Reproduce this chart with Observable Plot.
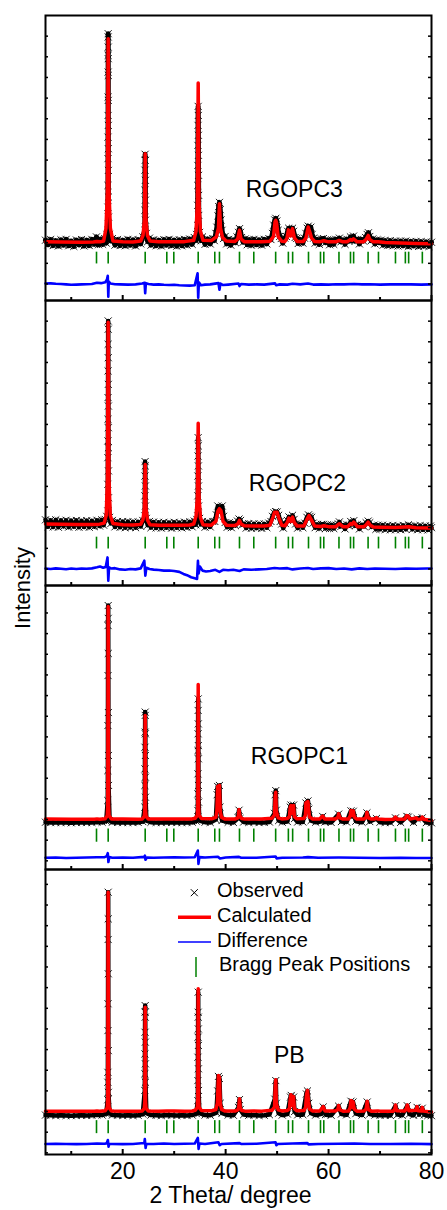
<!DOCTYPE html>
<html><head><meta charset="utf-8">
<script src="https://cdn.jsdelivr.net/npm/d3@7"></script>
<script src="https://cdn.jsdelivr.net/npm/@observablehq/plot@0.6"></script>
<style>
body{margin:0;background:#fff;}
#chart{position:relative;width:447px;height:1210px;overflow:hidden;}
#chart > svg{position:absolute;left:0;}
</style></head><body><div id="chart"></div>
<script>
// ---------------- DATA (2θ in degrees, intensity in a.u.) ----------------
const panelNames = ["RGOPC3", "RGOPC2", "RGOPC1", "PB"];
const xMajor = [20, 40, 60, 80];
const xMinor = [10, 30, 50, 70];
const legendLabels = ["Observed", "Calculated", "Difference", "Bragg Peak Positions"];
const bragg = [14.91, 17.18, 24.37, 28.57, 29.93, 34.67, 37.89, 38.8, 42.69, 45.47, 49.72, 52.19, 53.02, 56.1, 58.43, 59.07, 62.02, 64.26, 64.87, 67.68, 69.7, 73.0, 74.92, 75.56, 78.22];

const calcRGOPC3 = [[5,4],[8,3],[12,2],[14.3,3],[15.0,6],[15.6,4],
[16.3,8],[16.75,70],[17.03,250],[17.18,988],[17.33,250],[17.6,70],[18.1,8],
[20,4],[22,3],
[23.5,8],[23.95,35],[24.22,110],[24.37,431],[24.52,110],[24.8,35],[25.3,8],
[27,4],[28.6,5],[30,5],[32,5],
[33.8,12],[34.25,55],[34.52,195],[34.67,773],[34.82,195],[35.1,55],[35.6,12],
[37.2,10],[38.2,28],[38.6,70],[38.8,189],[39.0,70],[39.4,25],[40.1,8],
[41.8,6],[42.35,18],[42.69,60],[43.0,18],[43.6,5],
[45.5,4],[47,4],
[48.6,7],[49.3,30],[49.6,102],[49.74,108],[49.9,96],[50.2,30],[50.9,7],
[51.5,6],[51.9,20],[52.21,62],[52.6,32],[52.99,68],[53.35,24],[53.9,6],
[55.1,6],[55.6,22],[56.04,76],[56.4,48],[56.7,22],[57.3,6],
[58.4,5],[59.07,9],[60,4],
[61.4,4],[62.06,11],[62.8,4],
[63.6,5],[64.26,15],[64.55,12],[64.84,19],[65.5,5],
[66.8,5],[67.3,16],[67.7,35],[68.0,16],[68.6,5],
[69.64,4],[71,1],[74,-2],[77,-4],[80,-5]];

const obsRGOPC3 = [[5,12],[5.5,-10],[6,15],[6.5,-14],[7,10],[7.5,-16],[8,14],[8.5,-12],[9,16],[9.5,-15],[10,8],[10.5,-18],[11,13],[11.5,-11],[12,15],[12.5,-16],[13,12],[13.5,-14],[14,16],[14.5,-8],[14.9,28],[15.3,-10],[15.7,18],[16.1,-8],[16.5,20],[16.8,-2],[16.95,40],
[17.12,60],[17.13,172],[17.14,277],[17.15,407],[17.15,511],[17.16,616],[17.16,705],[17.17,826],[17.17,907],[17.18,996],[17.18,1012],[17.19,947],[17.19,891],[17.2,810],[17.2,689],[17.21,568],[17.21,455],[17.22,350],[17.23,221],[17.24,124],
[17.45,40],[17.7,8],[18.0,20],[18.5,-12],[19,15],[19.5,-14],[20,12],[20.5,-15],[21,16],[21.5,-12],[22,14],[22.5,-16],[23,15],[23.5,-6],[23.9,28],
[24.3,60],[24.31,157],[24.32,254],[24.33,351],[24.36,428],[24.39,399],[24.41,302],[24.42,206],[24.43,109],
[24.6,45],[24.85,5],[25.2,22],[25.5,-12],[26,14],[26.5,-15],[27,12],[27.5,-16],[28,15],[28.5,-12],[29,16],[29.5,-14],[30,13],[30.5,-17],[31,14],[31.5,-15],[32,16],[32.5,-12],[33,18],[33.5,-8],[33.9,25],[34.2,10],[34.35,40],
[34.55,84],[34.57,181],[34.59,277],[34.61,374],[34.62,471],[34.64,568],[34.66,660],[34.69,616],[34.71,520],[34.72,423],[34.74,326],[34.76,229],[34.78,132],
[34.95,50],[35.2,10],[35.5,28],[36,-8],[36.5,18],[37,-6],[37.5,20],[37.8,10],[38.1,45],[38.3,75],[38.5,130],[38.65,175],[38.8,195],[38.95,160],[39.1,110],[39.3,60],[39.6,20],[39.9,30],[40.2,-6],[40.6,16],[41,-12],[41.5,14],[41.9,0],[42.2,28],[42.5,50],[42.7,68],[42.9,50],[43.1,25],[43.4,2],[43.8,18],[44.2,-10],[44.6,15],[45,-12],[45.5,16],[46,-10],[46.5,14],[47,-12],[47.5,16],[48,-6],[48.4,20],[48.8,15],[49.1,45],[49.35,85],[49.55,110],[49.75,118],[49.95,105],[50.2,60],[50.5,30],[50.8,20],[51.1,-2],[51.5,22],[51.8,30],[52.05,55],[52.25,70],[52.5,45],[52.75,50],[53.0,70],[53.2,55],[53.5,25],[53.8,20],[54.1,-4],[54.5,16],[55,-2],[55.3,22],[55.6,45],[55.85,70],[56.05,80],[56.3,65],[56.55,75],[56.8,40],[57.1,22],[57.4,-2],[57.8,16],[58.2,-8],[58.6,18],[59.0,20],[59.4,0],[59.8,14],[60.2,-10],[60.6,14],[61,-8],[61.4,16],[61.8,10],[62.1,22],[62.4,4],[62.8,14],[63.2,-8],[63.6,16],[63.9,8],[64.25,28],[64.55,10],[64.85,32],[65.2,8],[65.6,16],[66,-6],[66.4,16],[66.8,8],[67.2,25],[67.5,40],[67.75,48],[68.0,30],[68.3,10],[68.6,18],[69,-6],[69.4,14],[69.8,0],[70.2,12],[70.6,-12],[71,10],[71.5,-14],[72,10],[72.5,-15],[73,8],[73.5,-16],[74,8],[74.5,-15],[75,8],[75.5,-18],[76,6],[76.5,-16],[77,6],[77.5,-18],[78,5],[78.5,-17],[79,4],[79.5,-18],[80,2]];

const diffRGOPC3 = [[5,2],[6,3],[7,1],[8,0],[9,-2],[10,-4],[11,-3],[12,-2],[13,-1],[14,0],[15,6],[15.8,4],[16.6,8],[16.95,22],[17.1,40],[17.2,-62],[17.3,12],[17.6,2],[18.5,-1],[19.5,-2],[21,-3],[22.5,-2],[23.8,2],[24.25,6],[24.37,-45],[24.5,4],[25,0],[26,-3],[27,-2],[28,-4],[29,-5],[30,-4],[31,-6],[32,-7],[33,-8],[34,-6],[34.55,52],[34.67,-67],[34.8,8],[35.2,-6],[36,-3],[37,-2],[38.6,4],[38.8,-28],[39.0,2],[39.5,-5],[40.5,-3],[42.5,2],[42.7,-10],[43,0],[44.5,-3],[46,-2],[47.5,-3],[49.6,3],[49.8,-6],[50.5,-2],[52,-3],[53,1],[54.5,-2],[56,2],[57,-3],[58.5,-2],[60,-3],[61.5,-1],[63,-2],[65,0],[66.5,-2],[68,-1],[70,-3],[72,-2],[74,-1],[76,-2],[78,-3],[80,-2]];

const calcRGOPC2 = [[5,18],[8,16],[11,15],[14,15],[15.5,17],
[16.4,22],[16.8,60],[17.04,240],[17.18,995],[17.32,240],[17.58,60],[18.1,20],
[20,14],[22,13],
[23.5,16],[23.95,40],[24.22,95],[24.37,306],[24.52,95],[24.8,38],[25.3,14],
[27,12],[29,12],[31,12],[33,13],
[33.8,18],[34.25,55],[34.52,150],[34.67,506],[34.82,150],[35.1,50],[35.6,14],
[37.2,12],[38.1,30],[38.5,80],[38.8,92],[39.1,82],[39.5,30],[40.2,12],
[41.8,10],[42.35,18],[42.69,35],[43.0,18],[43.6,9],
[45.5,8],[47.5,8],
[48.6,12],[49.2,50],[49.5,75],[50.0,75],[50.3,50],[50.9,12],
[51.5,9],[51.9,22],[52.3,46],[52.65,30],[53.0,51],[53.35,24],[53.9,8],
[55.2,8],[55.8,40],[56.2,59],[56.6,40],[57.3,8],
[58.5,6],[59.1,9],[60,5],
[61.4,5],[62.06,19],[62.8,5],
[63.7,5],[64.3,20],[64.6,16],[64.9,27],[65.6,5],
[66.8,4],[67.3,14],[67.7,27],[68.1,12],[68.7,3],
[70,2],[73,1],[75.6,4],[77,0],[80,-2]];

const obsRGOPC2 = [[5,38],[5.5,5],[6,36],[6.5,4],[7,38],[7.5,2],[8,35],[8.5,6],[9,36],[9.5,3],[10,34],[10.5,5],[11,35],[11.5,2],[12,33],[12.5,4],[13,34],[13.5,2],[14,33],[14.5,5],[15,36],[15.5,8],[15.9,38],[16.3,12],[16.6,40],[16.9,55],
[17.1,81],[17.11,210],[17.12,339],[17.13,420],[17.14,525],[17.15,630],[17.16,759],[17.17,888],[17.18,1001],[17.19,961],[17.2,823],[17.21,694],[17.22,589],[17.22,484],[17.23,387],[17.24,275],[17.25,145],
[17.45,50],[17.7,20],[18.0,35],[18.5,4],[19,30],[19.5,2],[20,30],[20.5,0],[21,29],[21.5,1],[22,28],[22.5,0],[23,28],[23.5,6],[23.9,35],
[24.29,57],[24.31,154],[24.33,250],[24.35,320],[24.39,299],[24.41,202],[24.43,105],
[24.6,45],[24.85,12],[25.2,30],[25.5,0],[26,27],[26.5,-1],[27,26],[27.5,-2],[28,26],[28.5,0],[29,25],[29.5,-2],[30,26],[30.5,0],[31,25],[31.5,-1],[32,27],[32.5,1],[33,28],[33.5,4],[33.9,32],[34.2,14],[34.4,40],
[34.58,57],[34.6,154],[34.62,250],[34.64,347],[34.66,436],[34.69,396],[34.71,299],[34.73,202],[34.75,105],
[34.95,45],[35.2,15],[35.5,30],[36,2],[36.5,28],[37,4],[37.5,30],[37.9,30],[38.2,62],[38.48,105],[38.7,80],[38.9,78],[39.1,85],[39.33,105],[39.6,55],[39.9,25],[40.3,2],[40.7,24],[41.1,0],[41.5,22],[41.9,10],[42.3,32],[42.6,42],[42.9,35],[43.2,15],[43.6,18],[44,-2],[44.5,20],[45,-3],[45.5,19],[46,-2],[46.5,18],[47,-3],[47.5,18],[48,0],[48.4,22],[48.8,30],[49.1,55],[49.4,72],[49.7,78],[50.0,76],[50.3,60],[50.6,30],[50.9,18],[51.2,-2],[51.6,20],[52.0,35],[52.3,52],[52.65,35],[53.0,60],[53.3,40],[53.6,18],[54,-2],[54.5,18],[55,0],[55.4,22],[55.8,50],[56.1,62],[56.4,55],[56.7,50],[57,22],[57.4,0],[57.8,16],[58.2,-4],[58.6,16],[59.0,16],[59.4,-4],[59.8,14],[60.2,-4],[60.6,14],[61,-4],[61.5,12],[61.9,18],[62.1,28],[62.4,6],[62.8,12],[63.2,-6],[63.6,14],[64,10],[64.3,30],[64.6,16],[64.9,34],[65.2,10],[65.6,14],[66,-6],[66.5,14],[66.9,6],[67.3,24],[67.7,32],[68.0,24],[68.4,4],[68.8,12],[69.2,-8],[69.6,12],[70,-8],[70.5,12],[71,-9],[71.5,11],[72,-10],[72.5,11],[73,-10],[73.5,10],[74,-10],[74.5,11],[75,-8],[75.5,14],[75.9,8],[76.3,-8],[76.8,10],[77.3,-10],[77.8,10],[78.3,-10],[78.8,9],[79.3,-11],[79.8,8],[80,0]];

const diffRGOPC2 = [[5,2],[6,0],[7,3],[8,1],[9,-1],[10,2],[11,0],[12,2],[13,1],[14,3],[15,8],[15.6,12],[16.2,6],[16.7,10],[17.05,56],[17.2,-57],[17.35,8],[17.8,2],[18.5,4],[19.5,-2],[20.5,-4],[21.5,0],[22.5,-2],[23.5,3],[24.2,40],[24.4,-32],[24.6,6],[25.2,0],[26,-3],[27,-5],[28,-8],[29,-7],[30,-10],[31,-14],[31.8,-24],[32.5,-30],[33.3,-40],[34.0,-45],[34.45,-48],[34.62,40],[34.75,-22],[35.0,12],[35.5,-8],[36.2,-12],[37,-10],[38,-4],[38.8,-14],[39.5,-4],[40.5,-6],[41.5,-4],[42.7,-10],[43.5,-2],[45,-4],[46.5,-2],[48,0],[49.5,5],[50.5,2],[52,4],[53,-2],[54.5,2],[56,5],[57,0],[58.5,3],[60,4],[61.5,0],[63,2],[64.5,-2],[66,3],[67.5,0],[69,2],[71,1],[73,0],[75,2],[77,1],[79,2],[80,2]];

const calcRGOPC1 = [[5,2],[10,1],[14.5,1],[15.0,3],[15.5,1],
[16.6,4],[17.0,18],[17.1,70],[17.18,1031],[17.26,70],[17.36,18],[17.8,3],
[20,2],[23,1],
[23.8,3],[24.2,15],[24.3,50],[24.37,504],[24.44,50],[24.54,15],[24.95,3],
[27,2],[28.6,3],[30,3],[32,2],[33.5,3],
[34.1,6],[34.5,20],[34.6,70],[34.67,654],[34.74,70],[34.84,20],[35.3,5],
[37.4,4],[38.1,10],[38.3,40],[38.45,160],[38.8,165],[38.95,40],[39.2,10],[39.8,3],
[41.9,3],[42.35,8],[42.5,20],[42.6,48],[42.75,18],[43.1,5],[43.8,2],
[45.4,3],[47,2],
[49.0,6],[49.5,22],[49.62,110],[49.74,132],[49.85,40],[50.2,8],[50.9,3],
[52.0,5],[52.4,14],[52.55,60],[52.7,68],[52.85,30],[53.05,62],[53.2,68],[53.35,14],[53.8,4],
[55.2,5],[55.5,20],[55.6,80],[56.0,87],[56.1,60],[56.3,12],[56.9,3],
[58.3,3],[58.7,14],[58.85,17],[59.2,3],
[61.3,3],[61.8,10],[61.95,28],[62.2,8],[62.8,2],
[63.9,3],[64.2,18],[64.35,44],[64.55,20],[64.8,42],[65.0,12],[65.5,2],
[66.9,3],[67.3,10],[67.45,35],[67.7,8],[68.3,2],
[69.0,3],[69.3,9],[69.6,2],[71,0],[72.7,1],[73.0,12],[73.3,1],[74.8,2],[75.2,19],[75.5,16],[75.8,2],[77.0,8],[77.3,1],[78.0,2],[78.2,12],[78.5,1],[80,-5]];

const obsRGOPC1 = [[5,-13],[6,-14],[7,-15],[8,-14],[9,-15],[10,-16],[11,-15],[12,-14],[13,-15],[14,-14],[15,-12],[16,-13],[16.8,-8],
[17.1,92],[17.12,237],[17.13,455],[17.15,697],[17.16,939],[17.18,1036],[17.19,974],[17.2,804],[17.22,518],[17.23,310],[17.25,165],[17.45,-5],
[18,-13],[19,-14],[20,-15],[21,-14],[22,-15],[23,-14],[23.9,-10],
[24.3,60],[24.31,165],[24.32,245],[24.33,350],[24.35,423],[24.37,520],[24.38,504],[24.4,415],[24.41,310],[24.42,205],[24.43,108],[24.6,-5],
[25.5,-13],[26.5,-14],[27.5,-15],[28.5,-13],[29.5,-14],[30.5,-15],[31.5,-14],[32.5,-15],[33.5,-13],[34.3,-8],
[34.6,44],[34.61,124],[34.62,221],[34.63,334],[34.65,415],[34.66,528],[34.67,584],[34.69,463],[34.7,358],[34.71,294],[34.72,165],[34.74,84],[34.9,-5],
[36,-13],[37,-14],[38.1,0],[38.35,120],[38.45,160],[38.8,165],[38.9,60],[39.3,-5],
[40.5,-13],[41.5,-14],[42.4,10],[42.6,45],[42.8,5],[43.5,-12],
[44.5,-14],[45.5,-13],[46.5,-15],[47.5,-14],[48.5,-12],[49.5,30],[49.62,120],[49.74,140],[49.85,45],[50.3,-5],[51,-13],
[52,-10],[52.55,60],[52.7,70],[52.95,40],[53.2,70],[53.4,5],[54,-12],
[55,-12],[55.6,80],[56.0,90],[56.15,50],[56.6,-5],[57.5,-13],
[58.5,-10],[58.85,15],[59.3,-12],[60.5,-14],[61.95,26],[62.5,-10],[63.5,-12],[64.35,42],[64.55,15],[64.8,40],[65.3,-8],[66.5,-13],[67.45,32],[68,-10],[69.3,5],[70,-13],[71,-14],[72,-15],[73.0,8],[74,-14],[75.2,15],[75.5,12],[76.5,-14],[77.2,5],[78.2,8],[79,-15],[80,-16]];

const diffRGOPC1 = [[5,0],[7,1],[9,-1],[11,0],[13,1],[15,2],[16.5,3],[16.9,8],[17.1,22],[17.22,-21],[17.4,3],[18,0],[20,1],[22,0],[24.2,4],[24.32,10],[24.42,-10],[24.7,1],[26,0],[28,1],[30,2],[32,1],[34,2],[34.6,35],[34.72,-30],[34.9,3],[36,1],[38.5,5],[38.9,-4],[40,1],[42.6,4],[43,0],[46,0],[49.7,6],[49.9,-3],[51,0],[55,1],[56,3],[58,0],[62,1],[66,0],[70,-1],[74,0],[77,-1],[80,-1]];

const calcPB = [[5,2],[10,1],[14.5,1],[15.0,3],[15.5,1],
[16.6,4],[17.0,18],[17.1,70],[17.18,1062],[17.26,70],[17.36,18],[17.8,3],
[20,2],[23,1],
[23.8,3],[24.2,15],[24.3,50],[24.37,505],[24.44,50],[24.54,15],[24.95,3],
[27,2],[28.6,3],[30,3],[32,2],[33.5,3],
[34.1,6],[34.5,20],[34.6,70],[34.67,594],[34.74,70],[34.84,20],[35.3,5],
[37.4,4],[38.1,10],[38.4,40],[38.6,174],[38.8,165],[38.95,40],[39.2,10],[39.8,3],
[41.9,3],[42.35,8],[42.55,20],[42.69,62],[42.83,18],[43.1,5],[43.8,2],
[45.4,3],[47,2],
[49.0,6],[49.5,22],[49.62,110],[49.74,154],[49.85,40],[50.2,8],[50.9,3],
[52.0,5],[52.4,14],[52.55,60],[52.7,81],[52.85,30],[53.05,62],[53.2,72],[53.35,14],[53.8,4],
[55.2,5],[55.55,20],[55.7,80],[55.9,102],[56.1,50],[56.3,12],[56.9,3],
[58.3,3],[58.8,18],[58.95,24],[59.3,3],
[61.3,3],[61.8,10],[61.95,29],[62.2,8],[62.8,2],
[63.9,3],[64.2,20],[64.35,53],[64.55,20],[64.75,48],[65.0,12],[65.5,2],
[66.9,3],[67.3,12],[67.5,50],[67.7,10],[68.3,2],
[69.6,3],[70,2],[72.6,2],[72.9,14],[73.0,32],[73.2,4],[74.8,3],[75.1,14],[75.3,32],[75.6,4],[77.0,6],[77.2,24],[77.4,4],[78.0,3],[78.2,20],[78.4,2],[80,-2]];

const obsPB = [[5,-17],[6,-18],[7,-19],[8,-18],[9,-19],[10,-20],[11,-19],[12,-18],[13,-19],[14,-18],[15,-16],[16,-17],[16.8,-10],
[17.1,57],[17.11,142],[17.12,190],[17.14,392],[17.15,522],[17.17,833],[17.18,1062],[17.19,933],[17.2,667],[17.21,295],[17.22,93],[17.45,-8],
[18,-17],[19,-18],[20,-19],[21,-18],[22,-19],[23,-18],[23.9,-12],
[24.3,102],[24.31,183],[24.32,279],[24.34,384],[24.36,481],[24.37,513],[24.38,457],[24.4,336],[24.41,231],[24.42,142],[24.6,-8],
[25.5,-17],[26.5,-18],[27.5,-19],[28.5,-17],[29.5,-18],[30.5,-19],[31.5,-18],[32.5,-19],[33.5,-17],[34.3,-10],
[34.6,53],[34.61,150],[34.62,263],[34.64,360],[34.66,481],[34.67,578],[34.68,457],[34.7,400],[34.71,320],[34.72,207],[34.74,102],[34.9,-8],
[36,-17],[37,-18],[38.2,-5],[38.45,100],[38.6,170],[38.8,160],[38.95,40],[39.3,-8],
[40.5,-17],[41.5,-18],[42.5,20],[42.69,58],[42.85,10],[43.5,-15],
[44.5,-18],[45.5,-17],[46.5,-19],[47.5,-18],[48.5,-15],[49.55,60],[49.74,150],[49.85,40],[50.3,-8],[51,-17],
[52,-12],[52.6,70],[52.75,78],[52.95,40],[53.2,70],[53.4,0],[54,-16],
[55,-15],[55.7,85],[55.9,100],[56.15,40],[56.6,-8],[57.5,-17],
[58.5,-12],[58.95,22],[59.4,-15],[60.5,-18],[61.95,26],[62.5,-12],[63.5,-16],[64.35,50],[64.55,15],[64.75,46],[65.3,-10],[66.5,-17],[67.5,46],[68,-12],[69,-17],[70,-18],[71,-18],[72,-19],[73.0,28],[73.4,-15],[74.3,-18],[75.3,28],[75.7,-12],[76.5,-18],[77.2,20],[77.6,-15],[78.2,16],[78.6,-16],[79.3,-19],[80,-20]];

const diffPB = [[5,0],[7,1],[9,0],[11,-1],[13,0],[15,2],[16.5,1],[16.9,4],[17.12,19],[17.25,-13],[17.4,1],[18,0],[20,-1],[22,0],[24.2,5],[24.3,24],[24.45,-19],[24.6,1],[26,0],[28,2],[30,0],[32,1],[34,2],[34.6,29],[34.75,-24],[34.9,2],[36,0],[38.6,8],[38.85,-6],[39.2,0],[42.7,4],[43,0],[46,1],[49.7,8],[49.85,-6],[50.1,0],[53,2],[55.9,4],[56.1,-2],[58,0],[62,1],[65,2],[68,0],[72,0],[76,1],[80,-1]];

// ---------------- LAYOUT / STYLE ----------------
const FONT = '"Liberation Sans", Arial, Helvetica, sans-serif';
const W = 447, ML = 45, MR = 16;
const panels = [
  {name: panelNames[0], calc: calcRGOPC3, obs: obsRGOPC3, diff: diffRGOPC3, top: 0,   height: 300, mt: 15, mb: 0,  domain: [-280, 1100], diffOffset: -200, braggY: [-46, -103], band: 5,   label: [43.9, 221]},
  {name: panelNames[1], calc: calcRGOPC2, obs: obsRGOPC2, diff: diffRGOPC2, top: 300, height: 285, mt: 0,  mb: 0,  domain: [-280, 1100], diffOffset: -200, braggY: [-46, -103], band: 4.5, label: [44.5, 177]},
  {name: panelNames[2], calc: calcRGOPC1, obs: obsRGOPC1, diff: diffRGOPC1, top: 585, height: 284, mt: 0,  mb: 0,  domain: [-242, 1133], diffOffset: -185, braggY: [-46, -110], band: 4.5, label: [44.9, 270]},
  {name: panelNames[3], calc: calcPB,     obs: obsPB,     diff: diffPB,     top: 869, height: 341, mt: 0,  mb: 56, domain: [-208, 1172], diffOffset: -157, braggY: [-44, -107], band: 4.5, label: [49.4, 236]}
];

const chart = document.getElementById("chart");
const innerW = W - ML - MR;

panels.forEach((p, i) => {
  const last = i === panels.length - 1;
  const ph = p.height - p.mt - p.mb;
  const yTicks = d3.range(Math.ceil(p.domain[0] / 100) * 100, p.domain[1], 100);
  const marks = [
    Plot.line(p.obs, {x: d => d[0], y: d => d[1], stroke: "#000", strokeWidth: p.band}),
    Plot.dot(p.obs, {x: d => d[0], y: d => d[1], symbol: "times", r: 3.3, stroke: "#000", strokeWidth: 0.9}),
    Plot.ruleX(bragg, {x: d => d, y1: () => p.braggY[0], y2: () => p.braggY[1], stroke: "#008000", strokeWidth: 1.6}),
    Plot.line(p.diff, {x: d => d[0], y: d => d[1] + p.diffOffset, stroke: "#0000ff", strokeWidth: 2.6}),
    Plot.line(p.calc, {x: d => d[0], y: d => d[1], stroke: "#ff0000", strokeWidth: 3.5}),
    Plot.text([p.name], {x: () => p.label[0], y: () => p.label[1], text: d => d, textAnchor: "start", lineAnchor: "bottom", fontSize: 23, fill: "#000"}),
    Plot.tickY(yTicks, {y: d => d, insetRight: innerW - 3, stroke: "#000", strokeWidth: 1.5}),
    Plot.tickY(yTicks, {y: d => d, insetLeft: innerW - 3, stroke: "#000", strokeWidth: 1.5}),
    Plot.tickX(xMajor, {x: d => d, insetTop: ph - 5, stroke: "#000", strokeWidth: 2}),
    Plot.tickX(xMinor, {x: d => d, insetTop: ph - 3, stroke: "#000", strokeWidth: 2}),
    Plot.frame({stroke: "#000", strokeWidth: 2})
  ];
  if (last) {
    marks.push(Plot.axisX({ticks: xMajor, tickSize: 0, tickPadding: 8, fontSize: 23, label: null}));
    marks.push(Plot.text(["2 Theta/ degree"], {frameAnchor: "bottom", text: d => d, dx: -8, dy: 48, lineAnchor: "bottom", fontSize: 23, fill: "#000"}));
  }
  const svg = Plot.plot({
    width: W, height: p.height,
    marginLeft: ML, marginRight: MR, marginTop: p.mt, marginBottom: p.mb,
    x: {domain: [5, 80], axis: null},
    y: {domain: p.domain, axis: null},
    style: {fontFamily: FONT, overflow: "visible", background: "transparent", color: "#000"},
    marks
  });
  svg.style.top = p.top + "px";
  chart.appendChild(svg);
});

// ---------------- Y label and legend overlay ----------------
const ov = d3.create("svg")
  .attr("width", W).attr("height", 1210)
  .style("position", "absolute").style("left", "0px").style("top", "0px")
  .style("pointer-events", "none").style("font-family", FONT);
ov.append("text").attr("transform", "translate(29.5,588) rotate(-90)")
  .attr("text-anchor", "middle").attr("font-size", 22).attr("fill", "#000").text("Intensity");

const lg = ov.append("g").attr("font-size", 20).attr("fill", "#000");
lg.append("path").attr("d", "M190.8,889.2L197.8,896.2M190.8,896.2L197.8,889.2").attr("stroke", "#000").attr("stroke-width", 1);
lg.append("line").attr("x1", 178).attr("x2", 211).attr("y1", 917.3).attr("y2", 917.3).attr("stroke", "#ff0000").attr("stroke-width", 3.5);
lg.append("line").attr("x1", 178).attr("x2", 211).attr("y1", 942).attr("y2", 942).attr("stroke", "#0000ff").attr("stroke-width", 1.5);
lg.append("line").attr("x1", 196).attr("x2", 196).attr("y1", 957).attr("y2", 977).attr("stroke", "#008000").attr("stroke-width", 1.5);
const lgPos = [[217, 896.7], [217, 921.7], [217, 946.7], [219, 971]];
legendLabels.forEach((t, i) => {
  lg.append("text").attr("x", lgPos[i][0]).attr("y", lgPos[i][1]).text(t);
});
chart.appendChild(ov.node());
</script>
</body></html>
